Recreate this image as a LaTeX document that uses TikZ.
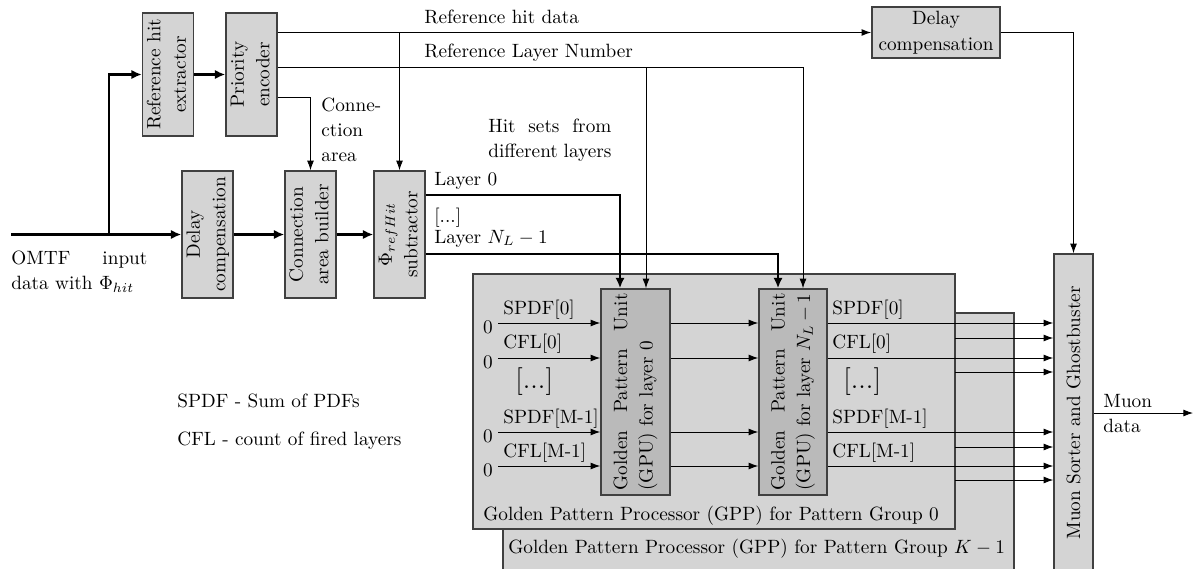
\documentclass[tikz,border=0pt]{standalone}
\usetikzlibrary{arrows.meta,calc}
\newdimen\pxu \pxu=0.52pt
\renewcommand{\arraystretch}{1.0}
\AtBeginDocument{\linespread{1.1}\selectfont}
\newcommand{\vtext}[1]{\rotatebox{90}{\begin{tabular}{@{}c@{}}#1\end{tabular}}}
\begin{document}
\begin{tikzpicture}[x=0.52pt,y=-0.52pt,
  box/.style={draw=black!75, line width=0.8pt, fill=black!17, inner sep=0pt, align=center},
  gpubox/.style={box, fill=black!27},
  lbl/.style={inner sep=0pt, anchor=base west},
  sig/.style={line width=0.45pt, -{Latex[length=5pt,width=3.6pt]}},
  bus/.style={line width=1.5pt, -{Latex[length=5.4pt,width=4.8pt]}}]
\useasboundingbox (0,0) rectangle (1195,568);
\clip (0,0) rectangle (1195,568);

% front-end boxes
\node[box, minimum width=50\pxu, minimum height=123\pxu] (rhe) at (168,74.5) {\vtext{Reference hit\\extractor}};
\node[box, minimum width=49\pxu, minimum height=123\pxu] (pe) at (251.5,74.5) {\vtext{Priority\\encoder}};
\node[box, minimum width=49\pxu, minimum height=127\pxu] (dc1) at (207.5,234.5) {\vtext{Delay\\compensation}};
\node[box, minimum width=49\pxu, minimum height=127\pxu] (cab) at (310.5,234.5) {\vtext{Connection\\area builder}};
\node[box, minimum width=49\pxu, minimum height=127\pxu] (sub) at (399.5,234.5) {\vtext{$\Phi_{refHit}$\\subtractor}};
\node[box, minimum width=128\pxu, minimum height=49\pxu] (dc2) at (936,32.5) {\begin{tabular}{@{}c@{}}Delay\\compensation\end{tabular}};

% GPP boxes
\node[box, minimum width=511\pxu, minimum height=277\pxu] (gppK) at (758.5,451.5) {};
\node[box, minimum width=482\pxu, minimum height=255\pxu] (gpp0) at (714,401.5) {};
\node[lbl] (gppKl) at (508,553) {Golden Pattern Processor (GPP) for Pattern Group $K-1$};
\node[lbl] (gpp0l) at (483,520) {Golden Pattern Processor (GPP) for Pattern Group 0};
\node[gpubox, minimum width=69\pxu, minimum height=206\pxu] (gpu0) at (635.5,392)
  {\rotatebox{90}{\parbox{197\pxu}{Golden\hfill Pattern\hfill Unit\\(GPU) for layer 0}}};
\node[gpubox, minimum width=68\pxu, minimum height=206\pxu] (gpuN) at (793,392)
  {\rotatebox{90}{\parbox{197\pxu}{Golden\hfill Pattern\hfill Unit\\(GPU) for layer $N_L-1$}}};
\node[box, minimum width=39\pxu, minimum height=318\pxu] (ms) at (1073.5,413)
  {\rotatebox{90}{Muon Sorter and Ghostbuster}};

% texts
\node[lbl] (omtf) at (11,264) {\parbox[t]{136\pxu}{OMTF\hfill input\\data with $\Phi_{hit}$}};
\node[lbl] (rhd) at (424,23) {Reference hit data};
\node[lbl] (rln) at (424,57) {Reference Layer Number};
\node[lbl] (carea) at (321,111) {\begin{tabular}[t]{@{}l@{}}Conne-\\ction\\area\end{tabular}};
\node[lbl] (hits) at (488,132) {\parbox[t]{123\pxu}{Hit\hfill sets\hfill from\\different layers}};
\node[lbl] (l0) at (434,185) {Layer 0};
\node[lbl] (ldots) at (434,222) {[...]};
\node[lbl] (lN) at (434,243) {Layer $N_L-1$};
\node[lbl] (leg1) at (177,407) {SPDF - Sum of PDFs};
\node[lbl] (leg2) at (177,445) {CFL - count of fired layers};
\node[lbl] (muon) at (1103,407) {\begin{tabular}[t]{@{}l@{}}Muon\\data\end{tabular}};

\node[lbl] (sl1) at (503,314) {SPDF[0]};
\node[lbl] (sl2) at (503,348) {CFL[0]};
\node[lbl, font=\Large] (sl3) at (515,388) {[...]};
\node[lbl] (sl4) at (503,423) {SPDF[M-1]};
\node[lbl] (sl5) at (503,457) {CFL[M-1]};
\node[lbl] (sr1) at (832,314) {SPDF[0]};
\node[lbl] (sr2) at (832,348) {CFL[0]};
\node[lbl, font=\Large] (sr3) at (843,388) {[...]};
\node[lbl] (sr4) at (832,423) {SPDF[M-1]};
\node[lbl] (sr5) at (832,457) {CFL[M-1]};

% input path
\coordinate (in0) at (11,234.5);
\coordinate (br) at (109,234.5);
\draw[bus] (in0) -- (dc1.west);
\draw[bus] (br) |- (rhe.west);
\draw[bus] (rhe.east) -- (pe.west);
\draw[bus] (dc1.east) -- (cab.west);
\draw[bus] (cab.east) -- (sub.west);

% priority encoder outputs
\draw[sig, line width=0.6pt] (pe.east |- dc2.west) -- (dc2.west);
\draw[sig] (sub.north |- dc2.west) -- (sub.north);
\coordinate (g0r) at ($(gpu0.north)+(10.5,0)$);
\coordinate (gNr) at ($(gpuN.north)+(10,0)$);
\coordinate (g0b) at ($(gpu0.north)+(-15.5,0)$);
\coordinate (gNb) at ($(gpuN.north)+(-15,0)$);
\draw[sig] (pe.east |- 0,67) -| (gNr);
\draw[sig] (g0r |- 0,67) -- (g0r);
\draw[sig] (pe.east |- 0,97) -| (cab.north);
\draw[bus] (sub.east |- 0,195) -| (g0b);
\draw[bus] (sub.east |- 0,254) -| (gNb);
\draw[sig] (dc2.east) -| (ms.north);
\coordinate (mout) at (1193,413);
\draw[sig] (ms.east) -- (mout);

% GPU chain
\foreach \y/\n in {323/a,358/b,432/c,466/d}{
  \coordinate (in\n) at (498,\y);
  \node[lbl, anchor=base east] (z\n) at (493,\y+10) {0};
  \draw[sig] (in\n) -- (in\n -| gpu0.west);
  \draw[sig] (in\n -| gpu0.east) -- (in\n -| gpuN.west);
  \draw[sig] (in\n -| gpuN.east) -- (in\n -| ms.west);
}
\foreach \y/\n in {338/a,372/b,447/c,480/d}{
  \coordinate (k\n) at (955,\y);
  \draw[sig] (k\n) -- (k\n -| ms.west);
}
\end{tikzpicture}
\end{document}
